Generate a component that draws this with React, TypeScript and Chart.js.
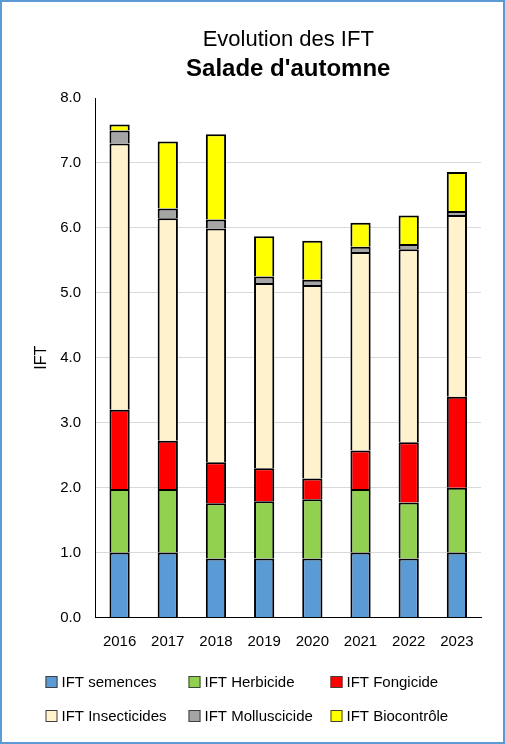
import React, { useEffect, useRef } from "react";
import { Chart, registerables } from "chart.js";

Chart.register(...registerables);

const years = ["2016", "2017", "2018", "2019", "2020", "2021", "2022", "2023"];
const semences = [1.0, 1.0, 0.91, 0.91, 0.91, 1.0, 0.91, 1.0];
const herbicide = [0.98, 0.98, 0.85, 0.88, 0.91, 0.98, 0.86, 1.0];
const fongicide = [1.22, 0.74, 0.63, 0.51, 0.32, 0.59, 0.93, 1.4];
const insecticides = [4.1, 3.43, 3.6, 2.85, 2.98, 3.06, 2.97, 2.8];
const molluscicide = [0.2, 0.15, 0.14, 0.1, 0.08, 0.08, 0.08, 0.06];
const biocontrole = [0.09, 1.03, 1.31, 0.62, 0.6, 0.37, 0.44, 0.6];

const seriesLabels = [
  "IFT semences",
  "IFT Herbicide",
  "IFT Fongicide",
  "IFT Insecticides",
  "IFT Molluscicide",
  "IFT Biocontrôle",
];
const seriesColors = ["#5b9bd5", "#92d050", "#ff0000", "#fff2cc", "#a5a5a5", "#ffff00"];
const seriesData = [semences, herbicide, fongicide, insecticides, molluscicide, biocontrole];

const yTicks = [0, 1, 2, 3, 4, 5, 6, 7, 8];

const FONT = "'Liberation Sans', Arial, sans-serif";

const gridLegend = {
  id: "gridLegend",
  afterDraw(chart: any) {
    const ctx = chart.ctx;
    const cols = [45.5, 188.5, 330.5];
    const rows = [682, 716];
    ctx.save();
    ctx.font = `15px ${FONT}`;
    ctx.textBaseline = "middle";
    ctx.textAlign = "left";
    chart.data.datasets.forEach((ds: any, i: number) => {
      const x = cols[i % 3];
      const y = rows[Math.floor(i / 3)];
      ctx.fillStyle = ds.backgroundColor;
      ctx.fillRect(x, y - 6, 12, 12);
      ctx.strokeStyle = "#404040";
      ctx.lineWidth = 1;
      ctx.strokeRect(x + 0.5, y - 5.5, 11, 11);
      ctx.fillStyle = "#000";
      ctx.fillText(ds.label, x + 16, y + 0.5);
    });
    ctx.restore();
  },
};

export default function App() {
  const ref = useRef<HTMLCanvasElement | null>(null);

  useEffect(() => {
    document.body.style.margin = "0";
    if (!ref.current) return;
    const chart = new Chart(ref.current, {
      type: "bar",
      data: {
        labels: years,
        datasets: seriesLabels.map((label, i) => ({
          label,
          data: seriesData[i],
          backgroundColor: seriesColors[i],
          borderColor: "#000",
          borderWidth: 2,
          borderSkipped: "start",
          barPercentage: 0.42,
          categoryPercentage: 1,
        })),
      },
      options: {
        responsive: false,
        animation: false,
        layout: { padding: { left: 0, right: 24, top: 0, bottom: 94.5 } },
        plugins: {
          legend: { display: false },
          tooltip: { enabled: false },
          title: {
            display: true,
            text: "Evolution des IFT",
            fullSize: false,
            color: "#000",
            font: { family: FONT, size: 22, weight: "normal" },
            padding: { top: 26.8, bottom: 0 },
          },
          subtitle: {
            display: true,
            text: "Salade d'automne",
            fullSize: false,
            color: "#000",
            font: { family: FONT, size: 24, weight: "bold" },
            padding: { top: 1.4, bottom: 14.6 },
          },
        },
        scales: {
          x: {
            stacked: true,
            grid: { display: false, drawTicks: false },
            border: { color: "#000", width: 1 },
            ticks: { color: "#000", font: { family: FONT, size: 15 }, padding: 15, maxRotation: 0 },
            afterFit: (s: any) => {
              s.height = 32;
            },
          },
          y: {
            stacked: true,
            min: yTicks[0],
            max: yTicks[yTicks.length - 1],
            afterBuildTicks: (s: any) => {
              s.ticks = yTicks.map((v) => ({ value: v }));
            },
            grid: {
              drawTicks: false,
              color: (c: any) => (c.tick && c.tick.value === 8 ? "rgba(0,0,0,0)" : "#d9d9d9"),
              lineWidth: 1,
            },
            border: { color: "#000", width: 1 },
            ticks: {
              color: "#000",
              font: { family: FONT, size: 15 },
              padding: 14.5,
              callback: (v: any) => Number(v).toFixed(1),
            },
            title: {
              display: true,
              text: "IFT",
              color: "#000",
              font: { family: FONT, size: 16 },
              padding: { top: 32, bottom: 0 },
            },
            afterFit: (s: any) => {
              s.width = 95.5;
            },
          },
        },
      },
      plugins: [gridLegend],
    });
    return () => chart.destroy();
  }, []);

  return (
    <div style={{ position: "relative", width: 505, height: 744, background: "#fff" }}>
      <canvas ref={ref} width={505} height={744} style={{ display: "block" }} />
      <div
        style={{
          position: "absolute",
          left: 0,
          top: 0,
          width: 505,
          height: 744,
          boxSizing: "border-box",
          border: "2px solid #5b9bd5",
          pointerEvents: "none",
        }}
      />
    </div>
  );
}
